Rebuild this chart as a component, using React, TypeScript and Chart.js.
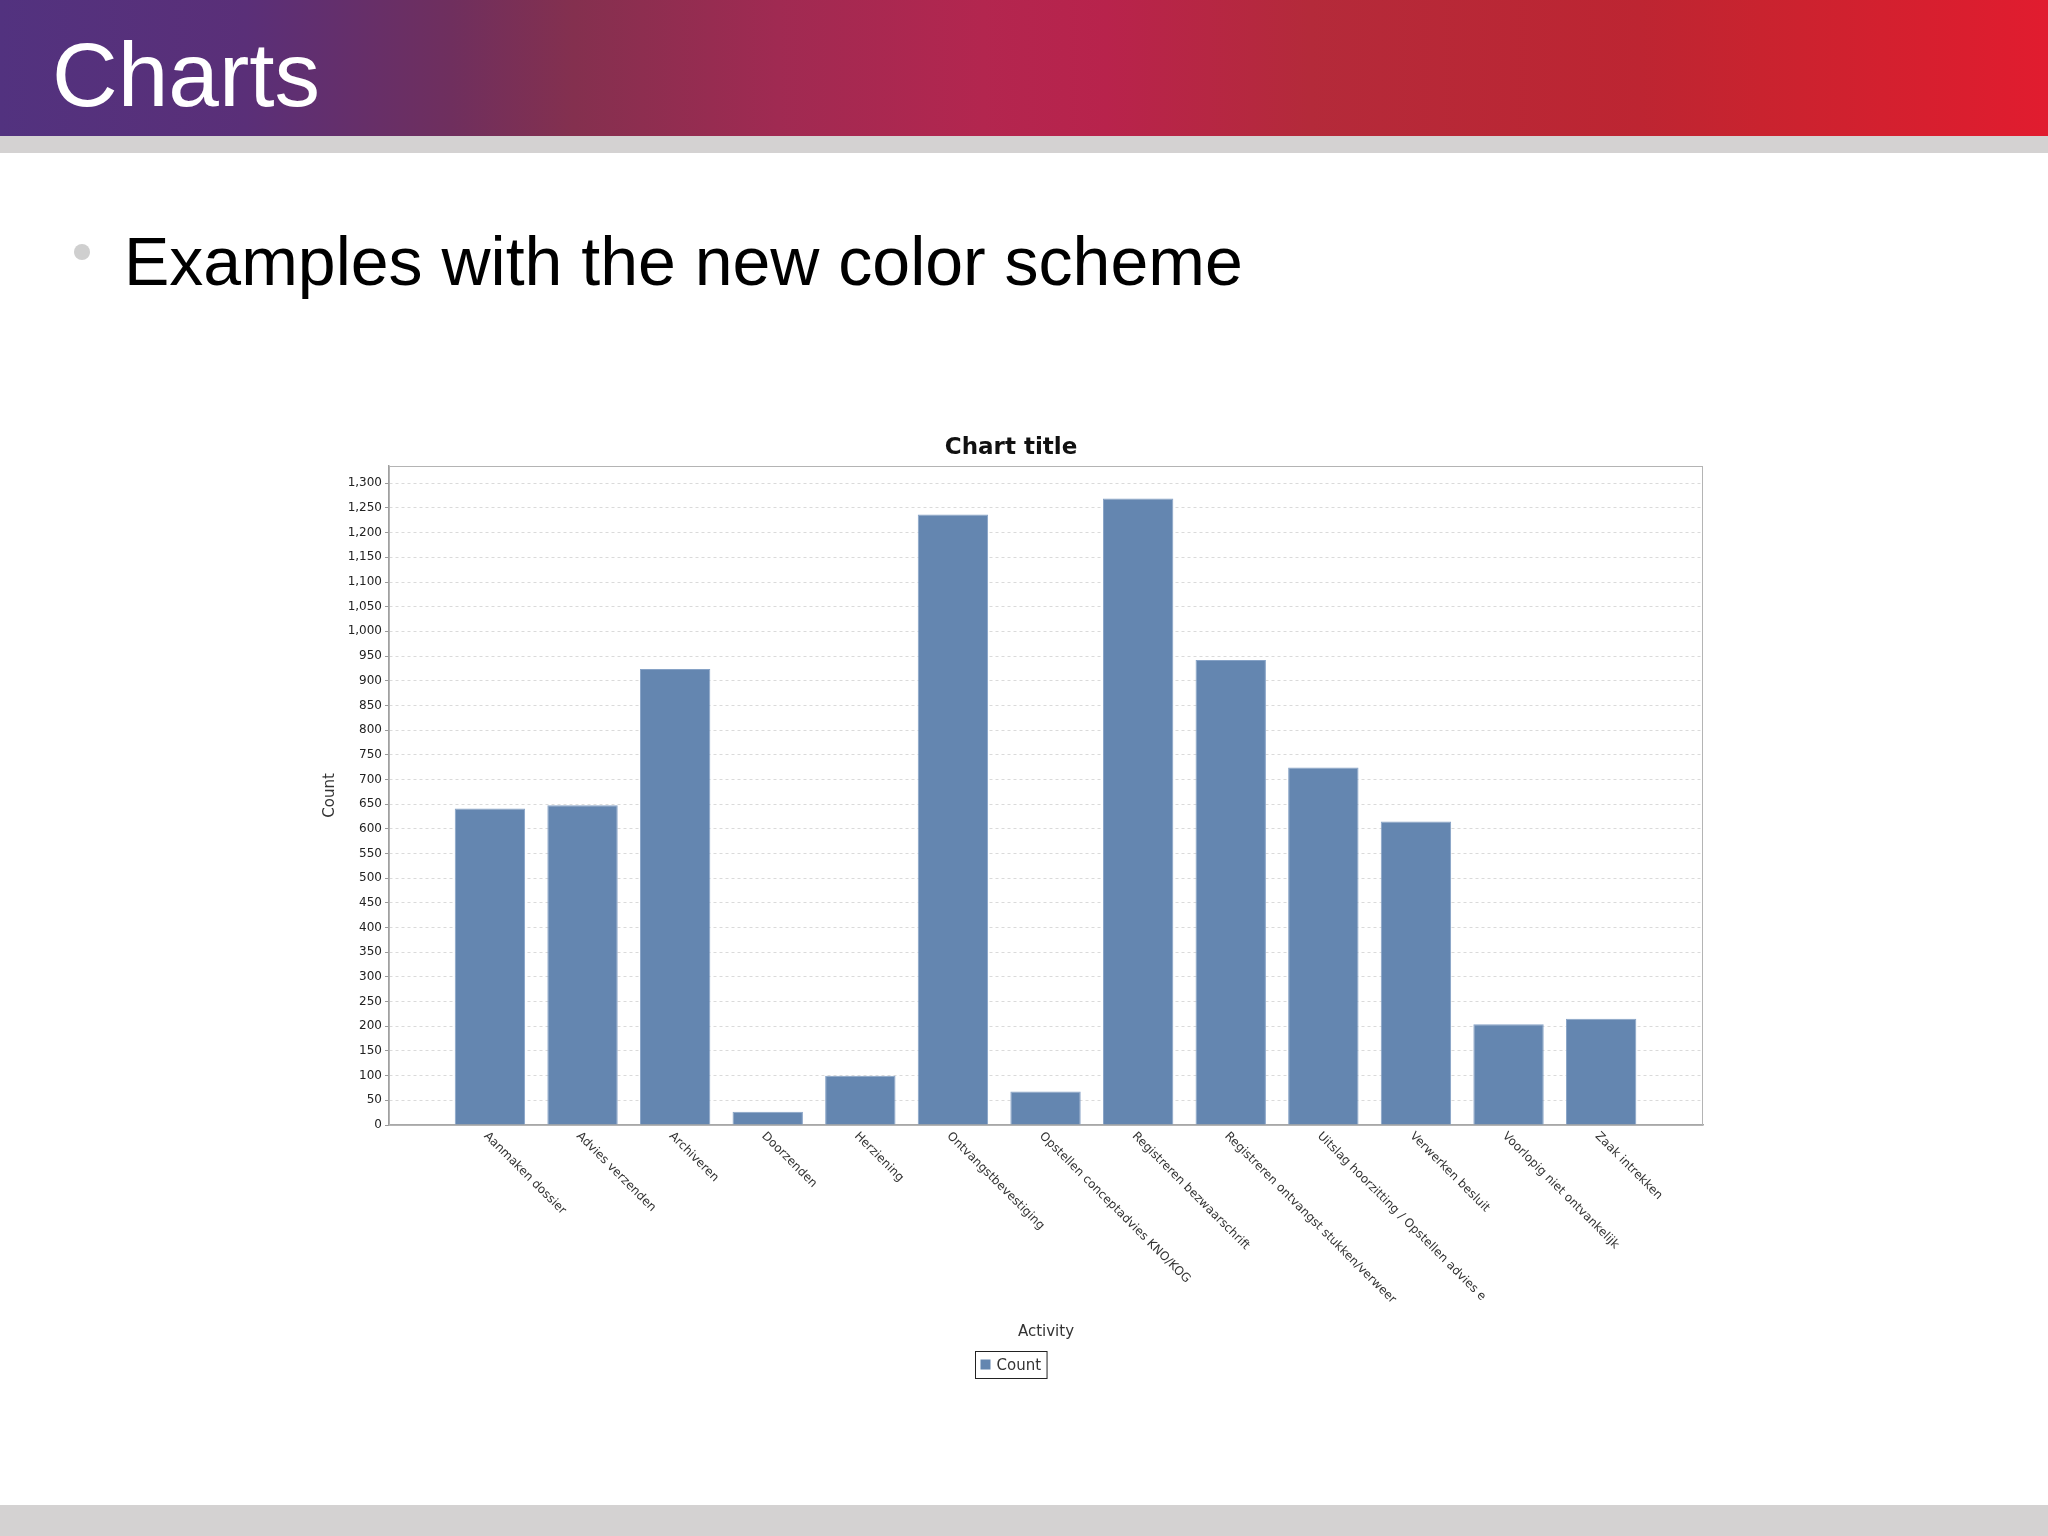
import { useRef, useEffect } from 'react';
import { Chart, registerables } from 'chart.js';

Chart.register(...registerables);

// data
const activities = [
  'Aanmaken dossier',
  'Advies verzenden',
  'Archiveren',
  'Doorzenden',
  'Herziening',
  'Ontvangstbevestiging',
  'Opstellen conceptadvies KNO/KOG',
  'Registreren bezwaarschrift',
  'Registreren ontvangst stukken/verweer',
  'Uitslag hoorzitting / Opstellen advies e',
  'Verwerken besluit',
  'Voorlopig niet ontvankelijk',
  'Zaak intrekken',
];
const counts = [641, 648, 924, 27, 100, 1237, 68, 1269, 942, 724, 615, 204, 215];
const yMax = 1335;
const yStep = 50;

const BAR_COLOR = '#6486b0';
const FONT = "'DejaVu Sans', sans-serif";

// x labels go down to the right (JFreeChart style), Chart.js can't rotate that way
const slantedLabels = {
  id: 'slantedLabels',
  afterDraw(chart: any) {
    const { ctx, chartArea } = chart;
    const x = chart.scales.x;
    ctx.save();
    ctx.font = `12px ${FONT}`;
    ctx.fillStyle = '#333';
    ctx.textAlign = 'left';
    ctx.textBaseline = 'top';
    activities.forEach((label, i) => {
      const px = x.getPixelForValue(i);
      ctx.save();
      ctx.translate(px, chartArea.bottom + 5);
      ctx.rotate(Math.PI / 4);
      ctx.fillText(label, 0, 0);
      ctx.restore();
    });
    ctx.restore();
  },
};

// plot outline + boxed legend
const plotFrame = {
  id: 'plotFrame',
  afterDraw(chart: any) {
    const { ctx, chartArea } = chart;
    ctx.save();
    ctx.strokeStyle = '#b4b4b4';
    ctx.lineWidth = 1;
    ctx.strokeRect(chartArea.left + 0.5, chartArea.top + 0.5, chartArea.right - chartArea.left - 1, chartArea.bottom - chartArea.top);

    const ds = chart.data.datasets[0];
    ctx.font = `15px ${FONT}`;
    const tw = ctx.measureText(ds.label).width;
    const w = 5 + 10 + 6 + tw + 6;
    const h = 27;
    const left = Math.round(chart.width / 2 - w / 2) + 0.5;
    const top = 931.5;
    ctx.strokeStyle = '#222';
    ctx.strokeRect(left, top, w, h);
    ctx.fillStyle = ds.backgroundColor;
    ctx.fillRect(left + 5, top + 8, 10, 10);
    ctx.fillStyle = '#333';
    ctx.textBaseline = 'middle';
    ctx.textAlign = 'left';
    ctx.fillText(ds.label, left + 21, top + h / 2 + 1);
    ctx.restore();
  },
};

function CountChart() {
  const canvasRef = useRef<HTMLCanvasElement>(null);

  useEffect(() => {
    const canvas = canvasRef.current;
    if (!canvas) return;
    Chart.defaults.font.family = FONT;
    const chart = new Chart(canvas, {
      type: 'bar',
      data: {
        datasets: [{
          label: 'Count',
          data: counts.map((v, i) => ({ x: i, y: v })),
          backgroundColor: BAR_COLOR,
          borderColor: '#86a2c6',
          borderWidth: 1,
          categoryPercentage: 1,
          barPercentage: 0.76,
        }],
      },
      options: {
        responsive: false,
        animation: false,
        layout: { padding: { left: 19, right: 19, top: 0, bottom: 50 } },
        plugins: {
          legend: { display: false },
          tooltip: { enabled: false },
          title: {
            display: true,
            text: 'Chart title',
            color: '#111',
            font: { family: FONT, size: 23, weight: 'bold', lineHeight: 1.2 },
            padding: { top: 14, bottom: 4.4 },
          },
        },
        scales: {
          x: {
            type: 'linear',
            min: -1.09,
            max: activities.length - 1 + 1.1,
            offset: false,
            grid: { display: false },
            ticks: { display: false },
            border: { color: '#a8a8a8', width: 1.5 },
            title: {
              display: true,
              text: 'Activity',
              color: '#333',
              font: { family: FONT, size: 15, lineHeight: 1.2 },
              padding: { top: 0, bottom: 4 },
            },
            afterFit(scale: any) { scale.height = 220; },
          },
          y: {
            min: 0,
            max: yMax,
            grid: {
              color: '#dadada',
              lineWidth: 1,
              tickLength: 4,
              tickColor: '#999',
              tickBorderDash: [],
            },
            border: { color: '#a0a0a0', width: 1.5, dash: [3, 3] },
            ticks: {
              stepSize: yStep,
              includeBounds: false,
              autoSkip: false,
              padding: 3,
              color: '#222',
              font: { family: FONT, size: 12 },
              callback: (v: any) => Number(v).toLocaleString('en-US'),
            },
            title: {
              display: true,
              text: 'Count',
              color: '#333',
              font: { family: FONT, size: 15, lineHeight: 1.2 },
              padding: { top: 2, bottom: 0 },
            },
            afterFit(scale: any) { scale.width = 70; },
          },
        },
      },
      plugins: [slantedLabels, plotFrame],
    });
    return () => {
      chart.destroy();
    };
  }, []);

  return <canvas ref={canvasRef} width={1422} height={975} style={{ position: 'absolute', left: 300, top: 420 }} />;
}

export default function App() {
  return (
    <div style={{ position: 'fixed', left: 0, top: 0, width: 2048, height: 1536, background: '#fff', overflow: 'hidden', fontFamily: "'Liberation Sans', Arial, sans-serif" }}>
      <div style={{
        position: 'absolute', left: 0, top: 0, width: 2048, height: 136,
        background: 'linear-gradient(90deg, #52327f 0%, #5a2f78 12%, #6f2f5e 22%, #84304f 28%, #a02a52 38%, #b3264f 48%, #b8234c 54%, #b42a3a 64%, #bd2532 80%, #c9232f 86%, #e11c2f 100%)',
      }} />
      <div style={{ position: 'absolute', left: 0, top: 136, width: 2048, height: 17, background: '#d4d2d2' }} />
      <div style={{ position: 'absolute', left: 52, top: 29, fontSize: 91, lineHeight: 1, color: '#fff' }}>Charts</div>
      <div style={{ position: 'absolute', left: 74, top: 244, width: 16, height: 16, borderRadius: 8, background: '#cfcfcf' }} />
      <div style={{ position: 'absolute', left: 124, top: 227, fontSize: 68, lineHeight: 1, color: '#000', whiteSpace: 'nowrap' }}>Examples with the new color scheme</div>
      <CountChart />
      <div style={{ position: 'absolute', left: 0, top: 1505, width: 2048, height: 31, background: '#d4d2d2' }} />
    </div>
  );
}
